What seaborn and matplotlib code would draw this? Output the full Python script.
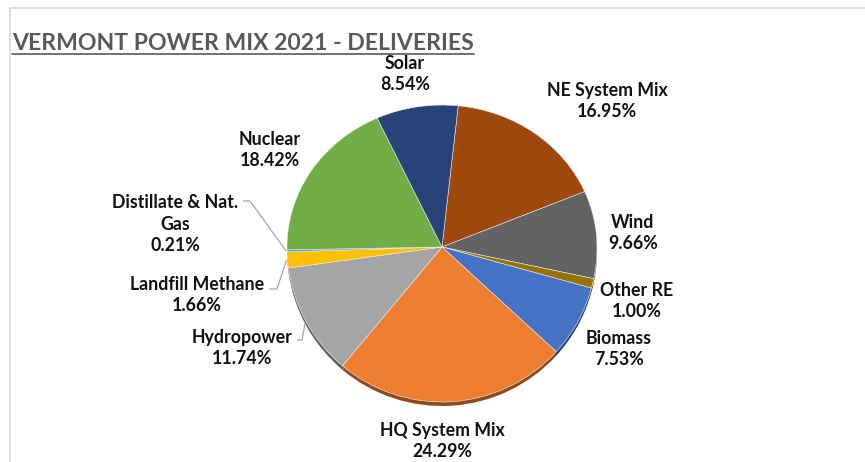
import numpy as np
import matplotlib
matplotlib.use("Agg")
import matplotlib.pyplot as plt
import matplotlib.transforms as mtransforms
from matplotlib.lines import Line2D
from matplotlib.patches import Rectangle
import seaborn as sns

# data, clockwise from the top
sources = ["NE System Mix", "Wind", "Other RE", "Biomass", "HQ System Mix",
           "Hydropower", "Landfill Methane", "Distillate & Nat. Gas",
           "Nuclear", "Solar"]
shares = [16.95, 9.66, 1.00, 7.53, 24.29, 11.74, 1.66, 0.21, 18.42, 8.54]

palette = ["#9E480E", "#636363", "#997300", "#4472C4", "#ED7D31",
           "#A5A5A5", "#FFC000", "#5B9BD5", "#70AD47", "#264478"]

W, H = 865, 462
CX, CY, R = 442, H - 247, 155

# label centres in image pixels (x, y from top)
label_pos = {
    "NE System Mix": (607, 101), "Wind": (633, 233), "Other RE": (637, 301),
    "Biomass": (619, 349), "HQ System Mix": (442, 441), "Hydropower": (242, 348),
    "Landfill Methane": (197, 295), "Distillate & Nat. Gas": (175, 224),
    "Nuclear": (270, 150), "Solar": (405, 74),
}
# leader elbows (image pixels)
leaders = {
    "Distillate & Nat. Gas": [(243, 201), (250, 201)],
    "Landfill Methane": [(269, 289), (277, 289)],
    "Hydropower": [(297, 340), (302, 340)],
}


class Tilt(mtransforms.Transform):
    """squash the upper half of the pie a little, like the excel 3d view"""
    input_dims = output_dims = 2

    def __init__(self, cy, top):
        super().__init__()
        self.cy, self.top = cy, top

    def transform_non_affine(self, xy):
        xy = np.array(xy, dtype=float)
        dy = xy[:, 1] - self.cy
        xy[:, 1] = self.cy + np.where(dy > 0, dy * self.top, dy)
        return xy


sns.set_theme(style="white")
plt.rcParams["font.family"] = ["Lato", "DejaVu Sans"]

fig = plt.figure(figsize=(W / 100, H / 100), dpi=100)
ax = fig.add_axes([0, 0, 1, 1])

tilt = Tilt(CY, 142 / 155)

# dark side of the disc
dark = [tuple(c * 0.6 for c in matplotlib.colors.to_rgb(p)) for p in palette]
sw, _ = ax.pie(shares, colors=dark, startangle=84, counterclock=False,
               center=(CX, CY - 4), radius=R, frame=True,
               wedgeprops=dict(linewidth=0))
for w in sw:
    w.set_transform(tilt + ax.transData)

wedges, _ = ax.pie(shares, colors=palette, startangle=84, counterclock=False,
                   center=(CX, CY), radius=R, frame=True,
                   wedgeprops=dict(linewidth=0.4, edgecolor="#f2f2f2"))
for w in wedges:
    w.set_transform(tilt + ax.transData)
ax.set_xlim(0, W)
ax.set_ylim(0, H)
ax.set_aspect("equal")
ax.axis("off")

for name, share, w in zip(sources, shares, wedges):
    x, y = label_pos[name]
    disp = name.replace("Nat. Gas", "Nat.\nGas")
    ax.text(x, H - y, f"{disp}\n{share:.2f}%", ha="center", va="center",
            multialignment="center", fontsize=12.8, fontweight="bold",
            color="#111111", linespacing=1.3)
    if name in leaders:
        mid = np.deg2rad((w.theta1 + w.theta2) / 2)
        ex, ey = CX + R * np.cos(mid), CY + R * np.sin(mid)
        ex, ey = tilt.transform([[ex, ey]])[0]
        pts = [(px, H - py) for px, py in leaders[name]] + [(ex - 1, ey)]
        xs, ys = zip(*pts)
        ax.plot(xs, ys, color="#a6a6a6", lw=0.9, solid_capstyle="butt")

# title with underline
t = ax.text(12, H - 50, "VERMONT POWER MIX 2021 - DELIVERIES", ha="left",
            va="baseline", fontsize=16.6, fontweight="bold", color="#595959")
fig.canvas.draw()
bb = t.get_window_extent()
fig.add_artist(Line2D([bb.x0 / W, bb.x1 / W], [(H - 54) / H] * 2,
                      color="#595959", lw=1.2))

# chart frame
fig.add_artist(Rectangle((9.5 / W, -0.01), (W - 8) / W, (H - 7.5) / H + 0.01,
                         fill=False, edgecolor="#d9d9d9", lw=1.2))

fig.savefig("out.png", dpi=100)
